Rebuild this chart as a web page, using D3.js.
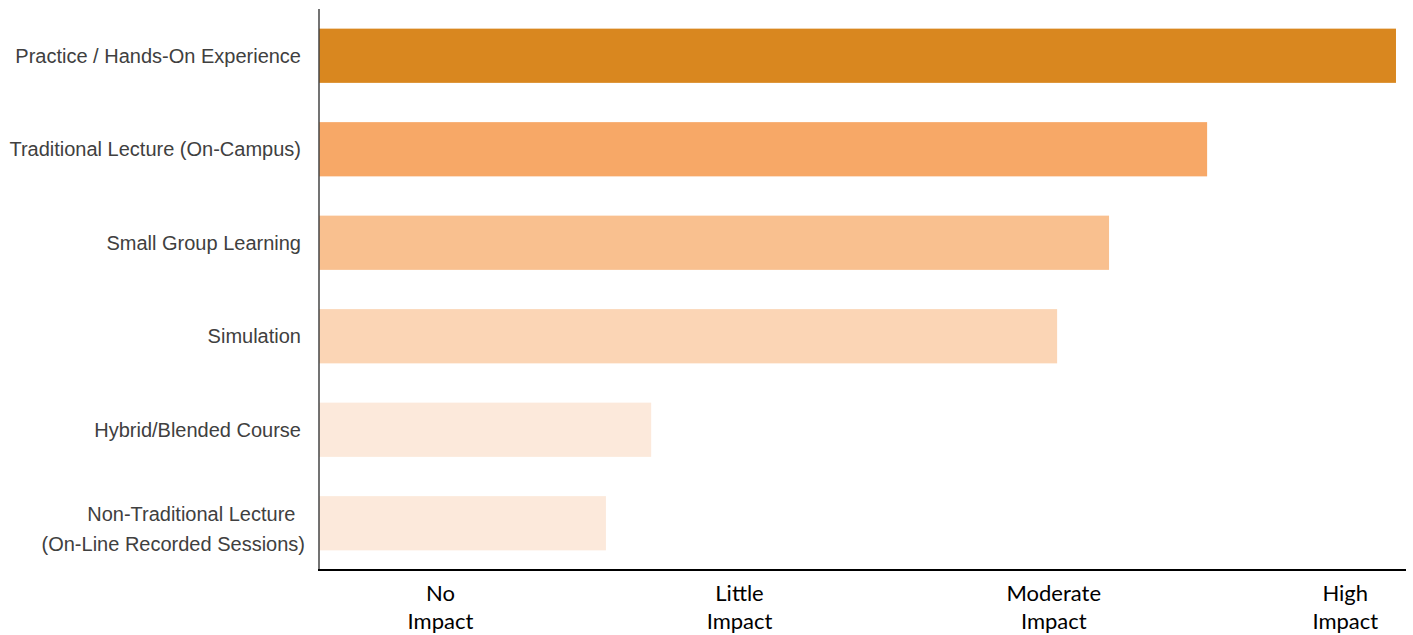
<!DOCTYPE html>
<html><head><meta charset="utf-8">
<script src="https://cdn.jsdelivr.net/npm/d3@7"></script>
<style>body{margin:0;background:#fff;}svg{display:block;}</style>
</head><body>
<svg id="chart" width="1413" height="635"></svg>
<script>
const categories = [
  ["Practice / Hands-On Experience"],
  ["Traditional Lecture (On-Campus)"],
  ["Small Group Learning"],
  ["Simulation"],
  ["Hybrid/Blended Course"],
  ["Non-Traditional Lecture\u00a0", "(On-Line Recorded Sessions)"]
];
const values = [4.147, 3.525, 3.202, 3.031, 1.694, 1.545];
const colors = ["#D9871F", "#F7A867", "#F9C08F", "#FBD5B5", "#FCE9DB", "#FCE9DB"];
const tickValues = [1, 1.985, 3.02, 3.98];
const tickLabels = [["No", "Impact"], ["Little", "Impact"], ["Moderate", "Impact"], ["High", "Impact"]];

(function () {
const svg = d3.select("#chart");
const mLeft = 319, mRight = 1406, mTop = 9, mBottom = 570;

const x = d3.scaleLinear().domain([0.6, 4.18]).range([mLeft, mRight]);
const y = d3.scaleBand().domain(d3.range(categories.length)).range([mTop, mBottom])
  .paddingInner(0.42).paddingOuter(0.21);

svg.append("g").selectAll("rect").data(values).join("rect")
  .attr("x", x(0.6))
  .attr("y", (d, i) => y(i))
  .attr("width", d => x(d) - x(0.6))
  .attr("height", y.bandwidth())
  .attr("fill", (d, i) => colors[i]);

// category labels
const lab = svg.append("g").attr("font-family", "'Liberation Sans', Arial, sans-serif")
  .attr("font-size", 20).attr("fill", "#404040").attr("text-anchor", "end");
categories.forEach((lines, i) => {
  const cy = y(i) + y.bandwidth() / 2;
  const n = lines.length, lh = 30;
  const off = n > 1 ? 6 : 0;
  const t = lab.append("text").attr("x", 301);
  lines.forEach((ln, j) => {
    t.append("tspan").attr("x", n > 1 && j === 1 ? 305 : 301)
      .attr("y", cy + off + (j - (n - 1) / 2) * lh).attr("dy", "0.35em").text(ln);
  });
});

// axes lines
svg.append("line").attr("x1", mLeft).attr("x2", mLeft).attr("y1", mTop).attr("y2", mBottom)
  .attr("stroke", "#444").attr("stroke-width", 1.5);
svg.append("line").attr("x1", mLeft - 1).attr("x2", mRight).attr("y1", mBottom).attr("y2", mBottom)
  .attr("stroke", "#000").attr("stroke-width", 2);

// tick labels
const tk = svg.append("g").attr("font-family", "Lato, 'Open Sans', sans-serif")
  .attr("font-size", 22).attr("fill", "#000").attr("text-anchor", "middle");
tickValues.forEach((v, i) => {
  const t = tk.append("text");
  tickLabels[i].forEach((ln, j) => {
    t.append("tspan").attr("x", x(v)).attr("y", 593 + j * 28).attr("dy", "0.35em").text(ln);
  });
});
})();
</script>
</body></html>
